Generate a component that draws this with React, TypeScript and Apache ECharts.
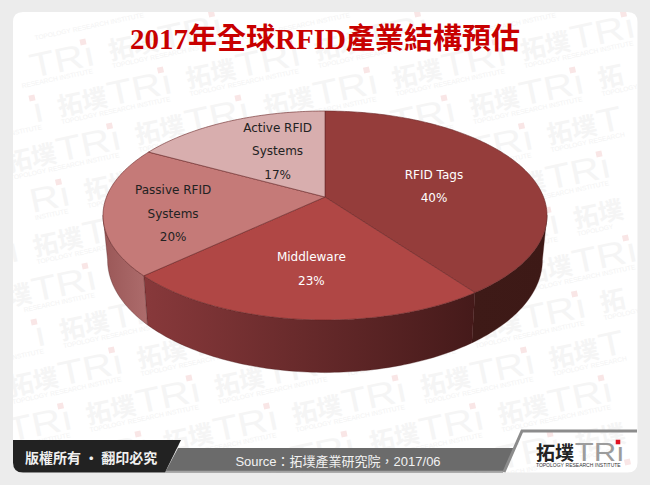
import React, { useEffect, useRef } from "react";
import * as echarts from "echarts";

const titleText = "2017年全球RFID產業結構預估";
const categories = ["RFID Tags", "Middleware", "Passive RFID\nSystems", "Active RFID\nSystems"];
const shareValues = [40, 23, 20, 17];
const sourceText = "Source：拓墣產業研究院，2017/06";
const rightsText = "版權所有 · 翻印必究";

// styling / layout (not data)
const topColors = ["#953d3b", "#b04745", "#c57a78", "#d8aeae"];
const labelColors = ["#ffffff", "#ffffff", "#222222", "#222222"];
const wallColors: string[][] = [
  ["#3e1a17", "#3d1916"],
  ["#88393b", "#451a1a"],
  ["#9a5757", "#ad6c6c"],
  ["#c8a0a0", "#c8a0a0"],
];
const labelPlace = [
  { r: 0.55, dx: -2, dy: 6 },
  { r: 0.634, dx: 1, dy: 0 },
  { r: 0.69, dx: 0, dy: 8 },
  { r: 0.56, dx: 10, dy: -1 },
];

// perspective projection of the pie disc on the page
const CX = 325;
const K = 0.177;
const topFace = { y0: 197, a: 218.5, b: 101.2 };
const baseFace = { y0: 240, a: 214, b: 109 };
const project = (f: typeof topFace, deg: number, r = 1) => {
  const t = (deg * Math.PI) / 180;
  const u = Math.sin(t) * r;
  const v = -Math.cos(t) * r;
  const w = 1 - K * v;
  return [CX + (f.a * u) / w, f.y0 + (f.b * v) / w];
};
const total = shareValues.reduce((s, v) => s + v, 0);
const sliceRange = (i: number) => {
  const before = shareValues.slice(0, i).reduce((s, v) => s + v, 0);
  return [(before / total) * 360, ((before + shareValues[i]) / total) * 360];
};
const arcPoints = (f: typeof topFace, a0: number, a1: number) => {
  const pts: number[][] = [];
  const n = Math.max(2, Math.ceil(Math.abs(a1 - a0)));
  for (let k = 0; k <= n; k++) pts.push(project(f, a0 + ((a1 - a0) * k) / n));
  return pts;
};

const renderTop = (params: any) => {
  const i = params.dataIndex;
  const [a0, a1] = sliceRange(i);
  return {
    type: "polygon",
    shape: { points: [[CX, topFace.y0], ...arcPoints(topFace, a0, a1)] },
    style: { fill: topColors[i], stroke: "rgba(105,40,40,0.75)", lineWidth: 0.8, lineJoin: "round" },
  };
};

const VIS_FROM = 100;
const VIS_TO = 260;
const renderWall = (params: any) => {
  const i = params.dataIndex;
  const [s0, s1] = sliceRange(i);
  const a0 = Math.max(s0, VIS_FROM);
  const a1 = Math.min(s1, VIS_TO);
  if (a1 <= a0) return { type: "group", children: [] };
  const upper = arcPoints(topFace, a0, a1);
  const lower = arcPoints(baseFace, a1, a0);
  const c = wallColors[i];
  return {
    type: "polygon",
    shape: { points: [...upper, ...lower] },
    style: {
      fill: new echarts.graphic.LinearGradient(0, 0, 1, 0, [
        { offset: 0, color: c[0] },
        { offset: 1, color: c[1] },
      ]),
      stroke: "rgba(70,25,25,0.55)",
      lineWidth: 0.6,
      lineJoin: "round",
    },
  };
};

const renderLabel = (params: any) => {
  const i = params.dataIndex;
  const [a0, a1] = sliceRange(i);
  const p = labelPlace[i];
  const [x, y] = project(topFace, (a0 + a1) / 2, p.r);
  return {
    type: "text",
    x: x + p.dx,
    y: y + p.dy,
    style: {
      text: `${categories[i]}\n${shareValues[i]}%`,
      fontFamily: "'DejaVu Sans', sans-serif",
      fontSize: 12,
      lineHeight: 23.5,
      fill: labelColors[i],
      align: "center",
      verticalAlign: "middle",
    },
  };
};

echarts.graphic.registerShape(
  "pageFrame",
  echarts.graphic.extendPath(
    "M0 0L650 0L650 485L0 485ZM23 12Q13 12 13 22L13 462.5Q13 472.5 23 472.5L627.5 472.5Q637.5 472.5 637.5 462.5L637.5 22Q637.5 12 627.5 12Z",
    {}
  ) as any
);
echarts.graphic.registerShape(
  "rightsTab",
  echarts.graphic.extendPath("M13 440L181 440L165 472.5L23 472.5Q13 472.5 13 462.5Z", {}) as any
);

type Piece = { text: string; x: number; y: number; w: number; h: number; size: number; font: string; bold?: boolean; sx?: number; fill: "cjk" | "tri" | "cap" };
const logoPieces: Piece[] = [
  { text: "拓", x: -108, y: 13, w: 25, h: 30, size: 25, font: "'Noto Sans CJK TC'", bold: true, fill: "cjk" },
  { text: "墣", x: -83, y: 13, w: 25, h: 30, size: 25, font: "'Noto Sans CJK TC'", bold: true, fill: "cjk" },
  { text: "T", x: -57, y: 13, w: 25, h: 40, size: 34, font: "'Liberation Sans'", sx: 1.2, fill: "tri" },
  { text: "R", x: -32, y: 13, w: 30, h: 40, size: 34, font: "'Liberation Sans'", sx: 1.2, fill: "tri" },
  { text: "ı", x: -2.5, y: 13, w: 12, h: 40, size: 34, font: "'Liberation Sans'", sx: 1.2, fill: "tri" },
  { text: "TOPOLOGY", x: -108, y: 30, w: 37, h: 8, size: 6.6, font: "'Liberation Sans'", fill: "cap" },
  { text: "RESEARCH", x: -69, y: 30, w: 37, h: 8, size: 6.6, font: "'Liberation Sans'", fill: "cap" },
  { text: "INSTITUTE", x: -30.5, y: 30, w: 34, h: 8, size: 6.6, font: "'Liberation Sans'", fill: "cap" },
];

const pieceFits = (p: Piece, ox: number, oy: number, rot: number, scale: number) => {
  const cos = Math.cos(rot);
  const sin = Math.sin(rot);
  for (const [lx, ly] of [
    [p.x, p.y - p.h / 2],
    [p.x + p.w, p.y - p.h / 2],
    [p.x, p.y + p.h / 2],
    [p.x + p.w, p.y + p.h / 2],
  ]) {
    const gx = ox + scale * (lx * cos + ly * sin);
    const gy = oy + scale * (-lx * sin + ly * cos);
    if (gx < 2 || gx > 648 || gy < 2 || gy > 483) return false;
  }
  return true;
};

const logo = (
  x: number,
  y: number,
  rotation: number,
  scale: number,
  c: { cjk: string; tri: string; dot: string; cap: string },
  z: number
) => ({
  type: "group",
  x,
  y,
  rotation,
  scaleX: scale,
  scaleY: scale,
  z,
  children: [
    ...logoPieces
      .filter((p) => pieceFits(p, x, y, rotation, scale))
      .map((p) => ({
        type: "text",
        z,
        x: p.x,
        y: p.y,
        scaleX: p.sx ?? 1,
        style: {
          text: p.text,
          fontFamily: p.font,
          fontWeight: p.bold ? "bold" : "normal",
          fontSize: p.size,
          fill: c[p.fill],
          align: "left",
          verticalAlign: "middle",
        },
      })),
    { type: "rect", z, shape: { x: -3, y: -3, width: 6, height: 6 }, style: { fill: c.dot } },
  ],
});

const watermarks: any[] = [];
const wmColors = { cjk: "#f5f5f5", tri: "#f5f5f5", dot: "#f9e6e6", cap: "#f3f3f3" };
for (let j = -2; j <= 17; j++) {
  for (let i = -8; i <= 10; i++) {
    const x = 83 + i * 206 + j * 77.5;
    const y = 42 + j * 28;
    if (x > -20 && x < 760 && y > -20 && y < 500) {
      watermarks.push(logo(x, y, 0.21, 1, wmColors, 1));
    }
  }
}

export default function App() {
  const ref = useRef<HTMLDivElement>(null);
  useEffect(() => {
    const chart = echarts.init(ref.current!, undefined, { renderer: "svg" });
    chart.setOption({
      animation: false,
      backgroundColor: "#ffffff",
      graphic: [
        ...watermarks,
        { type: "pageFrame", z: 2, style: { fill: "#ececec" } },
        {
          type: "polygon",
          z: 3,
          shape: { points: [[165, 472.5], [178, 448], [515, 448], [503, 472.5]] },
          style: { fill: "#6b6b6b" },
        },
        {
          type: "line",
          z: 3,
          shape: { x1: 166, y1: 471.5, x2: 503, y2: 471.5 },
          style: { stroke: "#a3a3a3", lineWidth: 1.5 },
        },
        { type: "rightsTab", z: 4, style: { fill: "#222222" } },
        {
          type: "polyline",
          z: 3,
          shape: { points: [[504, 472], [522, 431], [637, 431]] },
          style: { stroke: "#8c8c8c", lineWidth: 3, fill: "none" },
        },
        logo(618, 442, 0, 0.76, { cjk: "#222222", tri: "#9c9c9c", dot: "#e01020", cap: "#333333" }, 4),
        {
          type: "text",
          z: 5,
          x: 25,
          y: 457,
          style: {
            text: rightsText,
            fontFamily: "'Noto Sans CJK TC'",
            fontWeight: "bold",
            fontSize: 14,
            fill: "#f0f0f0",
            align: "left",
            verticalAlign: "middle",
          },
        },
        {
          type: "text",
          z: 5,
          x: 338,
          y: 461,
          style: {
            text: sourceText,
            fontFamily: "'Liberation Sans', 'Noto Sans CJK TC'",
            fontSize: 13,
            fill: "#f2f2f2",
            align: "center",
            verticalAlign: "middle",
          },
        },
        {
          type: "text",
          z: 5,
          x: 325,
          y: 39,
          style: {
            text: titleText,
            fontFamily: "'Liberation Serif', 'Noto Sans CJK TC'",
            fontWeight: "bold",
            fontSize: 29,
            fill: "#c80000",
            align: "center",
            verticalAlign: "middle",
          },
        },
      ],
      series: [
        {
          type: "custom",
          name: "walls",
          coordinateSystem: "none",
          z: 10,
          silent: true,
          data: shareValues,
          renderItem: renderWall,
        },
        {
          type: "custom",
          name: "share",
          coordinateSystem: "none",
          z: 11,
          silent: true,
          data: shareValues,
          renderItem: renderTop,
        },
        {
          type: "custom",
          name: "labels",
          coordinateSystem: "none",
          z: 12,
          silent: true,
          data: shareValues,
          renderItem: renderLabel,
        },
      ],
    });
    return () => chart.dispose();
  }, []);
  return <div ref={ref} style={{ position: "fixed", left: 0, top: 0, width: 650, height: 485 }} />;
}
